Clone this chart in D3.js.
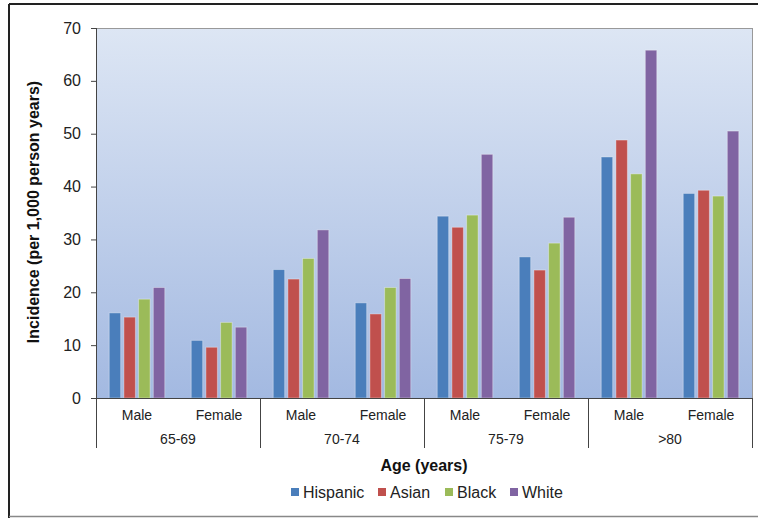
<!DOCTYPE html>
<html><head><meta charset="utf-8">
<script src="https://cdn.jsdelivr.net/npm/d3@7"></script>
<style>body{margin:0;background:#fff;}svg{display:block;font-family:"Liberation Sans",Arial,sans-serif;}</style>
</head><body>
<svg id="c" width="758" height="518"></svg>
<script>
const ageGroups = ["65-69","70-74","75-79",">80"];
const sexes = ["Male","Female"];
const seriesNames = ["Hispanic","Asian","Black","White"];
const colors = ["#4a7ebb","#c0504d","#9bbb59","#8064a2"];
const hispanic = [16.1,10.9,24.3,18.0,34.4,26.7,45.6,38.7];
const asian    = [15.3,9.6,22.5,15.9,32.3,24.2,48.8,39.3];
const black    = [18.7,14.3,26.4,20.9,34.6,29.3,42.4,38.2];
const white    = [20.9,13.4,31.8,22.6,46.1,34.2,65.8,50.5];
const yTicks = [0,10,20,30,40,50,60,70];
const seriesValues = [hispanic, asian, black, white];

const svg = d3.select("#c");
const L = 96, R = 752, T = 28, B = 398;

// outer frame
svg.append("line").attr("x1",9).attr("x2",9).attr("y1",4).attr("y2",518).attr("stroke","#222").attr("stroke-width",2);
svg.append("line").attr("x1",9).attr("x2",758).attr("y1",4).attr("y2",4).attr("stroke","#222").attr("stroke-width",2);
svg.append("line").attr("x1",9).attr("x2",758).attr("y1",516.5).attr("y2",516.5).attr("stroke","#888").attr("stroke-width",1.5);

const defs = svg.append("defs");
const grad = defs.append("linearGradient").attr("id","bg").attr("x1",0).attr("y1",0).attr("x2",0).attr("y2",1);
grad.append("stop").attr("offset","0%").attr("stop-color","#dde6f4");
grad.append("stop").attr("offset","100%").attr("stop-color","#a3b9e1");

svg.append("rect").attr("x",L).attr("y",T).attr("width",R-L).attr("height",B-T).attr("fill","url(#bg)");
svg.append("line").attr("x1",L).attr("x2",R).attr("y1",T+0.5).attr("y2",T+0.5).attr("stroke","#999");
svg.append("line").attr("x1",R+0.5).attr("x2",R+0.5).attr("y1",T).attr("y2",B).attr("stroke","#999");

const cats = [];
ageGroups.forEach(a => sexes.forEach(s => cats.push(a+"|"+s)));
const x = d3.scaleBand().domain(cats).range([L,R]).paddingInner(0).paddingOuter(0);
const xs = d3.scaleBand().domain(seriesNames).range([0,x.bandwidth()]).paddingInner(0.22).paddingOuter(0.9);
const y = d3.scaleLinear().domain([0,70]).range([B,T]);

// bars
seriesNames.forEach((name,si) => {
  svg.append("g").selectAll("rect").data(seriesValues[si]).join("rect")
    .attr("x",(d,i)=>x(cats[i])+xs(name))
    .attr("y",d=>y(d))
    .attr("width",xs.bandwidth())
    .attr("height",d=>B-y(d))
    .attr("fill",colors[si])
    .attr("stroke","rgba(255,255,255,0.35)")
    .attr("stroke-width",1);
});

// y axis
const yAxis = svg.append("g").attr("transform",`translate(${L},0)`)
  .call(d3.axisLeft(y).tickValues(yTicks).tickSize(5).tickPadding(10));
yAxis.select(".domain").remove();
yAxis.selectAll(".tick line").attr("stroke","#444");
yAxis.selectAll(".tick text").attr("font-size",16).attr("fill","#222").attr("font-family","Liberation Sans, Arial, sans-serif");
svg.append("line").attr("x1",L+0.5).attr("x2",L+0.5).attr("y1",T).attr("y2",448).attr("stroke","#444");
svg.append("line").attr("x1",L-5).attr("x2",R).attr("y1",B+0.5).attr("y2",B+0.5).attr("stroke","#444");

// category dividers
const groupScale = d3.scaleBand().domain(ageGroups).range([L,R]);
ageGroups.forEach(a => {
  const gx = groupScale(a) + groupScale.bandwidth();
  svg.append("line").attr("x1",gx+0.5).attr("x2",gx+0.5).attr("y1",B).attr("y2",448).attr("stroke","#444");
  svg.append("text").attr("x",groupScale(a)+groupScale.bandwidth()/2).attr("y",444)
    .attr("text-anchor","middle").attr("font-size",14).attr("fill","#222").text(a);
});
cats.forEach(c => {
  svg.append("text").attr("x",x(c)+x.bandwidth()/2).attr("y",420)
    .attr("text-anchor","middle").attr("font-size",14).attr("fill","#222").text(c.split("|")[1]);
});

// titles
svg.append("text").attr("transform","translate(39,212) rotate(-90)").attr("text-anchor","middle")
  .attr("font-size",16).attr("font-weight","bold").attr("fill","#111").text("Incidence (per 1,000 person years)");
svg.append("text").attr("x",424).attr("y",471).attr("text-anchor","middle")
  .attr("font-size",16).attr("font-weight","bold").attr("fill","#111").text("Age (years)");

// legend
const legX = [291, 378, 445, 510];
seriesNames.forEach((n,i) => {
  svg.append("rect").attr("x",legX[i]).attr("y",488).attr("width",8).attr("height",8).attr("fill",colors[i]);
  svg.append("text").attr("x",legX[i]+12).attr("y",498).attr("font-size",16).attr("fill","#222").text(n);
});
</script>
</body></html>
